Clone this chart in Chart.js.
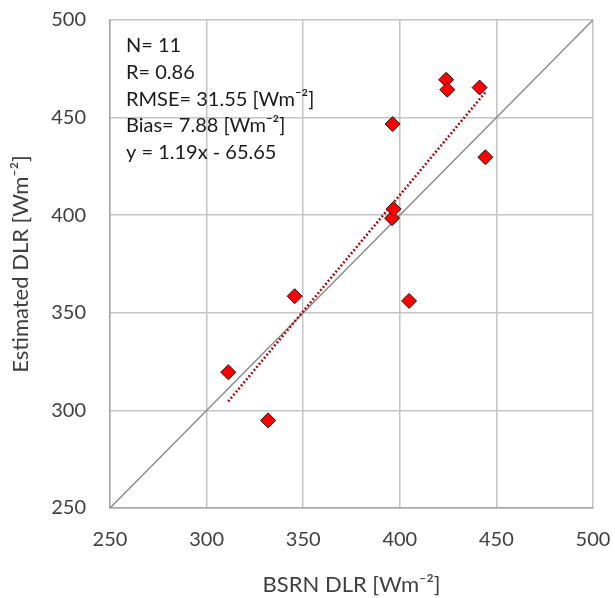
<!DOCTYPE html>
<html><head><meta charset="utf-8">
<script src="https://cdn.jsdelivr.net/npm/chart.js@4/dist/chart.umd.min.js"></script>
<style>html,body{margin:0;padding:0;background:#fff}#wrap{width:615px;height:598px}</style>
</head><body><div id="wrap"><canvas id="c" width="615" height="598"></canvas></div>
<script>
const bsrnDLR = [311.2, 331.8, 345.6, 396.0, 396.8, 396.3, 404.8, 424.0, 424.6, 441.3, 444.3];
const estimatedDLR = [319.6, 294.9, 358.5, 398.5, 403.2, 446.7, 356.1, 469.4, 464.3, 465.4, 429.7];
const trendX = [311.2, 444.3];
const trendY = [304.6, 463.0];
const oneToOneX = [250, 500];
const oneToOneY = [250, 500];
const tickValues = [250, 300, 350, 400, 450, 500];
const statsLines = ['N= 11', 'R= 0.86', 'RMSE= 31.55 [Wm\u207B\u00B2]', 'Bias= 7.88 [Wm\u207B\u00B2]', 'y = 1.19x - 65.65'];

const FONT = 'Lato, "Open Sans", sans-serif';
const pts = (xs, ys) => xs.map((x, i) => ({x, y: ys[i]}));

const statsPlugin = {
  id: 'stats',
  afterDatasetsDraw(chart) {
    const ctx = chart.ctx;
    ctx.save();
    ctx.font = '20px ' + FONT;
    ctx.fillStyle = '#1a1a1a';
    ctx.textBaseline = 'middle';
    const x0 = chart.chartArea.left + 16;
    statsLines.forEach((t, i) => ctx.fillText(t, x0, 46 + i * 26.6));
    ctx.restore();
  }
};

new Chart(document.getElementById('c'), {
  type: 'scatter',
  data: {
    datasets: [
      { data: pts(bsrnDLR, estimatedDLR), pointStyle: 'rectRot', pointRadius: 7.5, pointHoverRadius: 7.5,
        backgroundColor: '#FF0000', borderColor: '#1a1a1a', borderWidth: 1, order: 1 },
      { type: 'line', data: pts(trendX, trendY), borderColor: '#B00000', borderWidth: 2.6,
        borderDash: [1.8, 2.2], borderCapStyle: 'butt', pointRadius: 0, fill: false, order: 2 },
      { type: 'line', data: pts(oneToOneX, oneToOneY), borderColor: '#8C8C8C', borderWidth: 1.5,
        pointRadius: 0, fill: false, order: 3 }
    ]
  },
  options: {
    responsive: false, animation: false, devicePixelRatio: 1,
    layout: { padding: { top: 20, right: 22, left: 0, bottom: 0 } },
    plugins: { legend: { display: false }, tooltip: { enabled: false } },
    scales: {
      x: {
        type: 'linear', min: 250, max: 500,
        afterBuildTicks: s => { s.ticks = tickValues.map(v => ({value: v})); },
        afterFit: s => { s.height = 90; s.paddingLeft = 0; s.paddingRight = 0; },
        grid: { color: '#C4C4C4', lineWidth: 1.5, drawTicks: false },
        border: { color: '#A6A6A6', width: 1.5 },
        ticks: { color: '#404040', font: { family: FONT, size: 20 }, padding: 20, maxRotation: 0 },
        title: { display: true, text: 'BSRN DLR [Wm\u207B\u00B2]', color: '#404040',
                 font: { family: FONT, size: 22 }, padding: { top: 4, bottom: 0 } }
      },
      y: {
        type: 'linear', min: 250, max: 500,
        afterBuildTicks: s => { s.ticks = tickValues.map(v => ({value: v})); },
        afterFit: s => { s.width = 110; s.paddingTop = 0; s.paddingBottom = 0; },
        grid: { color: '#C4C4C4', lineWidth: 1.5, drawTicks: false },
        border: { color: '#A6A6A6', width: 1.5 },
        ticks: { color: '#404040', font: { family: FONT, size: 20 }, padding: 24 },
        title: { display: true, text: 'Estimated DLR [Wm\u207B\u00B2]', color: '#404040',
                 font: { family: FONT, size: 22 }, padding: { top: 8, bottom: 0 } }
      }
    }
  },
  plugins: [statsPlugin]
});
</script></body></html>
